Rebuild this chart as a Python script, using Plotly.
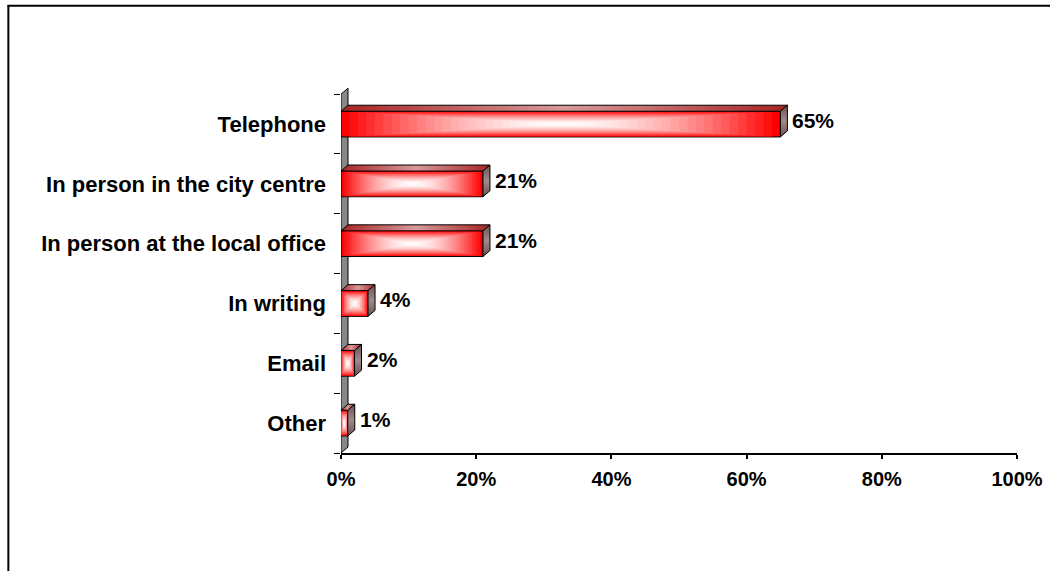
import plotly.graph_objects as go

# ---- data ----
categories = ["Telephone", "In person in the city centre", "In person at the local office",
              "In writing", "Email", "Other"]
values = [65, 21, 21, 4, 2, 1]
x_ticks = [0, 20, 40, 60, 80, 100]
x_tick_labels = ["0%", "20%", "40%", "60%", "80%", "100%"]
value_labels = [f"{v}%" for v in values]

# ---- geometry / style ----
FW, FH = 1050, 571
PX_L, PX_R = 341, 1016.7          # x axis 0% .. 100%
PX_T, PX_B = 94, 453              # category band top .. bottom
n = len(categories)
cat_px = (PX_B - PX_T) / n
head = 0.12                        # extra room above first band (category units)
plot_top = PX_T - head * cat_px

DX = 7 / (PX_R - PX_L) * 100       # 3-D depth in x units
DY = 6 / cat_px                    # 3-D depth in category units
BAR_H = 0.43
FONT = "Liberation Sans, Arial, sans-serif"


def px2paper_x(px):
    return (px - PX_L) / (PX_R - PX_L)


def px2paper_y(py):
    return (PX_B - py) / (PX_B - plot_top)


def lerp(c1, c2, s):
    return "rgb(%d,%d,%d)" % tuple(round(a + (b - a) * s) for a, b in zip(c1, c2))


fig = go.Figure()

ypos = list(range(n))

# front faces: nested bars giving a rectangular red -> white gradient
N = 26
RED = (255, 0, 0)
WHITE = (255, 250, 250)
for k in range(N):
    t = k / N
    s = 1 - (1 - k / (N - 1)) ** 1.6
    fig.add_trace(go.Bar(
        orientation="h",
        y=ypos,
        x=[v * (1 - t) for v in values],
        base=[v * t / 2 for v in values],
        width=BAR_H * (1 - t),
        marker=dict(color=lerp(RED, WHITE, s),
                    line=dict(color="black", width=1 if k == 0 else 0)),
        hoverinfo="skip",
        showlegend=False,
    ))

# top and side faces
for i, v in enumerate(values):
    y0 = i - BAR_H / 2
    y1 = i + BAR_H / 2
    fig.add_trace(go.Scatter(
        x=[0, v, v + DX, DX, 0],
        y=[y0, y0, y0 - DY, y0 - DY, y0],
        mode="lines", fill="toself",
        line=dict(color="black", width=1),
        fillgradient=dict(type="horizontal",
                          colorscale=[[0, "#a82424"], [0.5, "#d89a9a"], [1, "#a82424"]]),
        hoverinfo="skip", showlegend=False,
    ))
    fig.add_trace(go.Scatter(
        x=[v, v + DX, v + DX, v, v],
        y=[y0, y0 - DY, y1 - DY, y1, y0],
        mode="lines", fill="toself",
        line=dict(color="black", width=1),
        fillgradient=dict(type="vertical",
                          colorscale=[[0, "#6e5050"], [0.5, "#a08a8a"], [1, "#6e5050"]]),
        hoverinfo="skip", showlegend=False,
    ))

# value labels
for i, (v, lab) in enumerate(zip(values, value_labels)):
    fig.add_annotation(x=v, y=i, text=f"<b>{lab}</b>", showarrow=False,
                       xanchor="left", xshift=10, yshift=3.5,
                       font=dict(family=FONT, size=21, color="black"))

# wall (behind the bars)
wall_path = (f"M 0 {n - 0.5} L 0 -0.5 L {DX} {-0.5 - DY} "
             f"L {DX} {n - 0.5 - DY} Z")
shapes = [dict(type="path", path=wall_path, xref="x", yref="y", layer="below",
               fillcolor="#888888", line=dict(color="black", width=1))]

# outer frame
shapes.append(dict(type="line", xref="paper", yref="paper",
                   x0=px2paper_x(8.5), x1=px2paper_x(8.5),
                   y0=px2paper_y(5.5), y1=px2paper_y(FH + 10),
                   line=dict(color="black", width=2)))
shapes.append(dict(type="line", xref="paper", yref="paper",
                   x0=px2paper_x(7.5), x1=px2paper_x(FW + 10),
                   y0=px2paper_y(5.5), y1=px2paper_y(5.5),
                   line=dict(color="black", width=2)))

fig.update_layout(
    width=FW, height=FH,
    margin=dict(l=PX_L, r=FW - PX_R, t=plot_top, b=FH - PX_B, pad=0, autoexpand=False),
    paper_bgcolor="white", plot_bgcolor="white",
    barmode="overlay",
    font=dict(family=FONT, size=20, color="black"),
    shapes=shapes,
    xaxis=dict(range=[0, 100], tickmode="array", tickvals=x_ticks, ticktext=x_tick_labels,
               automargin=False,
               showline=True, linecolor="black", linewidth=2,
               ticks="outside", ticklen=4, tickwidth=2, tickcolor="black",
               showgrid=False, zeroline=False,
               tickfont=dict(family=FONT, size=20, color="black", weight="bold"),
               ticklabelstandoff=3),
    yaxis=dict(range=[n - 0.5, -0.5 - head], tickmode="array", tickvals=ypos,
               ticktext=[f"<b>{c}</b>" for c in categories],
               automargin=False,
               ticks="", showline=False, showgrid=False, zeroline=False,
               tickfont=dict(family=FONT, size=22, color="black"),
               ticklabelstandoff=14,
               minor=dict(tickmode="array", tickvals=[j - 0.5 for j in range(n + 1)],
                          ticks="outside", ticklen=6, tickwidth=1, tickcolor="black")),
)

fig.write_html("out.html", config={"displayModeBar": False},
               post_script="document.body.style.margin='0';document.body.style.overflow='hidden';")
